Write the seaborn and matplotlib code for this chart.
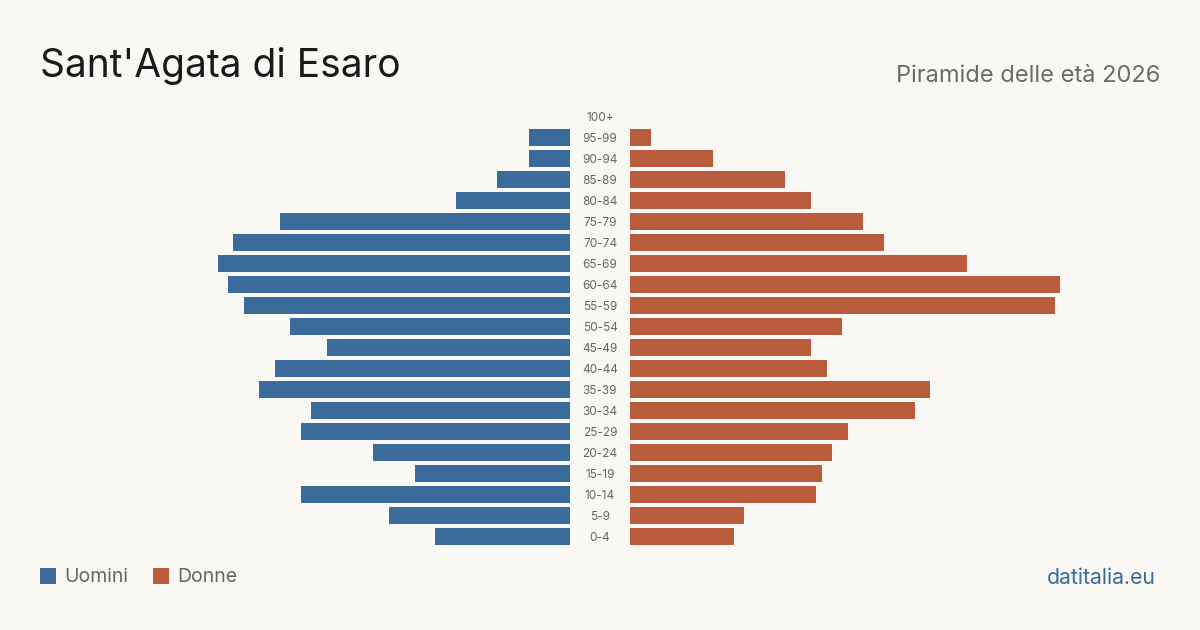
import matplotlib
matplotlib.use("Agg")
import matplotlib.pyplot as plt
import matplotlib.transforms as mtransforms
from matplotlib.patches import Rectangle
import seaborn as sns
import pandas as pd

age_groups = ["100+", "95-99", "90-94", "85-89", "80-84", "75-79", "70-74", "65-69",
              "60-64", "55-59", "50-54", "45-49", "40-44", "35-39", "30-34", "25-29",
              "20-24", "15-19", "10-14", "5-9", "0-4"]
uomini = [0, 8, 8, 14, 22, 56, 65, 68, 66, 63, 54, 47, 57, 60, 50, 52, 38, 30, 52, 35, 26]
donne = [0, 4, 16, 30, 35, 45, 49, 65, 83, 82, 41, 35, 38, 58, 55, 42, 39, 37, 36, 22, 20]

title = "Sant'Agata di Esaro"
subtitle = "Piramide delle età 2026"
legend_labels = ["Uomini", "Donne"]
source = "datitalia.eu"

BLUE = "#3b6b9b"
ORANGE = "#b95c3c"
BG = "#f9f8f4"

sns.set_theme(style="white")
plt.rcParams["font.family"] = ["Inter", "DejaVu Sans"]

df = pd.DataFrame({"age": age_groups, "Uomini": uomini, "Donne": donne})

W, H = 1200, 630
fig = plt.figure(figsize=(12, 6.3), dpi=100, facecolor=BG)

px_per_unit = 5.18
axw = 530
xmax = axw / px_per_unit
top_px, bot_px = 106, 547
axL = fig.add_axes([40 / W, (H - bot_px) / H, axw / W, (bot_px - top_px) / H])
axR = fig.add_axes([630 / W, (H - bot_px) / H, axw / W, (bot_px - top_px) / H])

sns.barplot(data=df, y="age", x="Uomini", order=age_groups, orient="h",
            color=BLUE, saturation=1, width=0.81, ax=axL)
sns.barplot(data=df, y="age", x="Donne", order=age_groups, orient="h",
            color=ORANGE, saturation=1, width=0.81, ax=axR)

for ax in (axL, axR):
    ax.set_facecolor(BG)
    ax.set_ylim(len(age_groups) - 0.5, -0.5)
    for s in ax.spines.values():
        s.set_visible(False)
    ax.set_xticks([])
    ax.set_yticks([])
    ax.set_xlabel("")
    ax.set_ylabel("")
    for p in ax.patches:
        p.set_edgecolor("none")
        p.set_linewidth(0)
axL.set_xlim(xmax, 0)
axR.set_xlim(0, xmax)

trans = mtransforms.blended_transform_factory(fig.transFigure, axL.transData)
for i, lab in enumerate(age_groups):
    fig.text(600 / W, i + 0.07, lab, transform=trans, ha="center", va="center",
             fontsize=8.5, color="#666666")

fig.text(40 / W, 1 - 66 / H, title, ha="left", va="center",
         fontsize=28, color="#1a1a1a")
fig.text(1160 / W, 1 - 76 / H, subtitle, ha="right", va="center",
         fontsize=17, color="#6b6b6b")

ly = 1 - 576 / H
sq = 16
fig.patches.append(Rectangle((40 / W, ly - sq / 2 / H), sq / W, sq / H,
                             transform=fig.transFigure, color=BLUE, lw=0))
fig.text(64 / W, ly - 1.5 / H, legend_labels[0], ha="left", va="center", fontsize=14, color="#666666")
fig.patches.append(Rectangle((153 / W, ly - sq / 2 / H), sq / W, sq / H,
                             transform=fig.transFigure, color=ORANGE, lw=0))
fig.text(177 / W, ly - 1.5 / H, legend_labels[1], ha="left", va="center", fontsize=14, color="#666666")

fig.text(1156 / W, ly - 1.5 / H, source, ha="right", va="center", fontsize=15.3, color=BLUE)

fig.savefig("out.png", dpi=100, facecolor=BG)
